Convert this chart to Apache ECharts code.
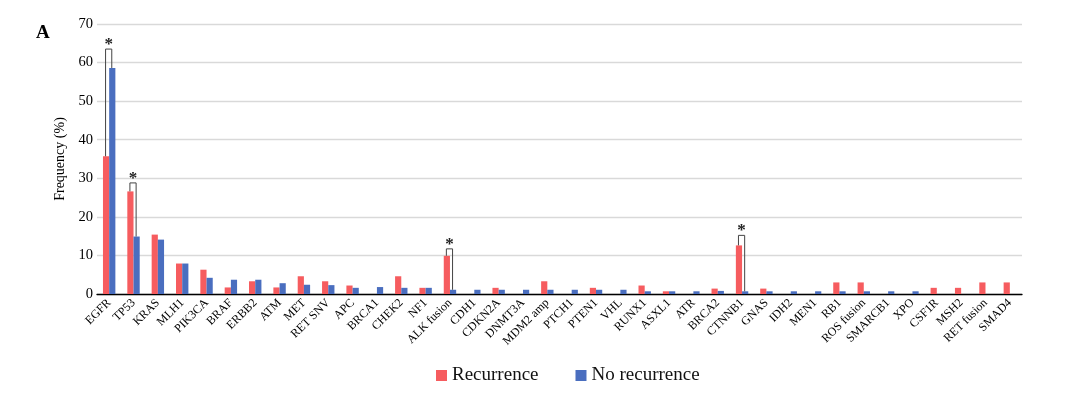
<!DOCTYPE html>
<html>
<head>
<meta charset="utf-8">
<script src="https://cdn.jsdelivr.net/npm/echarts@6/dist/echarts.min.js"></script>
<style>
html,body{margin:0;padding:0;background:#fff;}
#chart{width:1080px;height:393px;}
</style>
</head>
<body>
<div id="chart"></div>
<script>
var categories = ['EGFR','TP53','KRAS','MLH1','PIK3CA','BRAF','ERBB2','ATM','MET','RET SNV','APC','BRCA1','CHEK2','NF1','ALK fusion','CDH1','CDKN2A','DNMT3A','MDM2 amp','PTCH1','PTEN1','VHL','RUNX1','ASXL1','ATR','BRCA2','CTNNB1','GNAS','IDH2','MEN1','RB1','ROS fusion','SMARCB1','XPO','CSF1R','MSH2','RET fusion','SMAD4'];
var recurrence = [35.7,26.6,15.4,7.9,6.3,1.7,3.3,1.7,4.6,3.3,2.2,0,4.6,1.6,9.9,0,1.6,0,3.3,0,1.6,0,2.2,0.7,0,1.4,12.6,1.4,0,0,3.0,3.0,0,0,1.6,1.6,3.0,3.0];
var noRecurrence = [58.6,14.9,14.1,7.9,4.2,3.7,3.7,2.8,2.4,2.3,1.6,1.8,1.6,1.6,1.1,1.1,1.1,1.1,1.1,1.1,1.1,1.1,0.7,0.7,0.7,0.8,0.7,0.7,0.7,0.7,0.7,0.7,0.7,0.7,0,0,0,0];
var yTicks = [0,10,20,30,40,50,60,70];
// significance brackets: [category index, recurrence value, no-recurrence value, bracket top value]
var significance = [
  [0, 35.7, 58.6, 63.5],
  [1, 26.6, 14.9, 28.8],
  [14, 9.9, 1.1, 11.7],
  [26, 12.6, 0.7, 15.2]
];

var SERIF = '"Liberation Serif", "DejaVu Serif", serif';
var chart = echarts.init(document.getElementById('chart'));
var barW = 6.2;

chart.setOption({
  animation: false,
  backgroundColor: '#fff',
  title: {
    text: 'A', left: 31, top: 19,
    textStyle: {fontFamily: SERIF, fontWeight: 'bold', fontSize: 19, color: '#000'}
  },
  legend: {
    top: 361, left: 431,
    itemWidth: 11, itemHeight: 11, itemGap: 37,
    icon: 'rect',
    textStyle: {fontFamily: SERIF, fontSize: 19, color: '#111'},
    data: ['Recurrence', 'No recurrence']
  },
  grid: {left: 97, right: 58, top: 24, bottom: 99, containLabel: false},
  xAxis: {
    type: 'category',
    data: categories,
    axisLine: {lineStyle: {color: '#000', width: 1.3}},
    axisTick: {show: false},
    axisLabel: {
      interval: 0, rotate: 45, margin: 7,
      fontFamily: SERIF, fontSize: 12, color: '#000'
    }
  },
  yAxis: {
    type: 'value', min: 0, max: 70, interval: 10,
    name: 'Frequency (%)',
    nameLocation: 'middle', nameGap: 30,
    nameTextStyle: {fontFamily: SERIF, fontSize: 14, color: '#000'},
    axisLine: {show: false},
    axisTick: {show: false},
    axisLabel: {
      fontFamily: SERIF, fontSize: 14.5, color: '#000', margin: 4,
      formatter: function (v) { return yTicks.indexOf(v) >= 0 ? String(v) : ''; }
    },
    splitLine: {lineStyle: {color: '#d9d9d9', width: 1.3}}
  },
  series: [
    {
      name: 'Recurrence', type: 'bar', data: recurrence,
      barWidth: barW, barGap: '0%',
      itemStyle: {color: '#F65C5F'}
    },
    {
      name: 'No recurrence', type: 'bar', data: noRecurrence,
      barWidth: barW, barGap: '0%',
      itemStyle: {color: '#4A6EBF'}
    },
    {
      type: 'custom',
      data: significance,
      z: 10,
      encode: {x: 0, y: 3},
      renderItem: function (params, api) {
        var idx = api.value(0);
        var pR = api.coord([idx, api.value(1)]);
        var pB = api.coord([idx, api.value(2)]);
        var pT = api.coord([idx, api.value(3)]);
        var xl = pR[0] - barW / 2 - 0.5;
        var xr = pB[0] + barW / 2 - 0.5;
        return {
          type: 'group',
          children: [
            {
              type: 'polyline',
              shape: {points: [[xl, pR[1]], [xl, pT[1]], [xr, pT[1]], [xr, pB[1]]]},
              style: {stroke: '#444', lineWidth: 1, fill: null}
            },
            {
              type: 'text',
              x: (xl + xr) / 2, y: pT[1] + 4,
              style: {text: '*', textAlign: 'center', textVerticalAlign: 'bottom',
                      font: 'bold 17px ' + SERIF, fill: '#222'}
            }
          ]
        };
      }
    }
  ]
});
</script>
</body>
</html>
